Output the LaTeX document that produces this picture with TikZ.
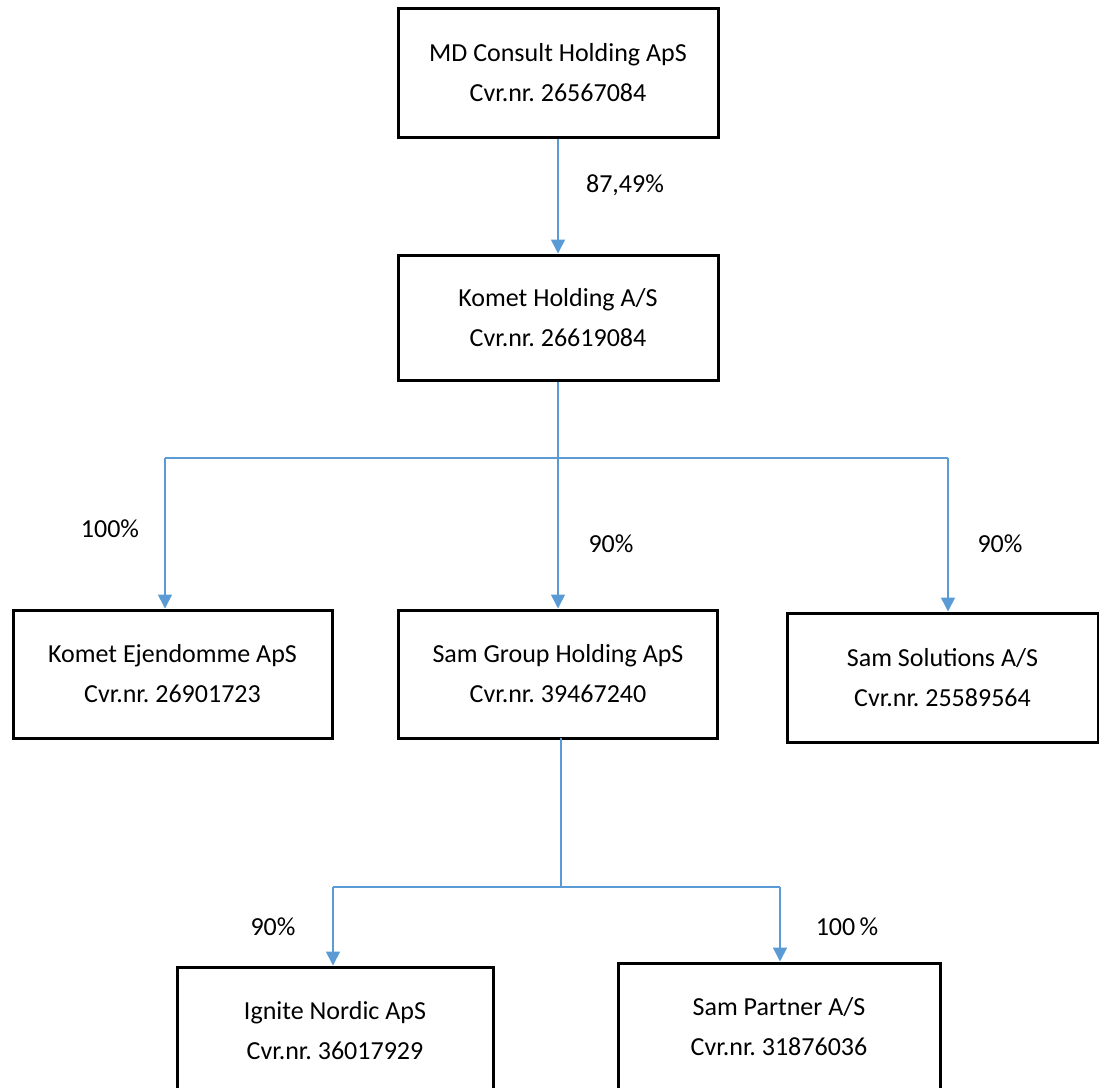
\documentclass[tikz,border=0pt]{standalone}
\usepackage{fontspec}
\setmainfont{Carlito}
\usetikzlibrary{arrows.meta}
\definecolor{linkblue}{HTML}{5B9BD5}
\frenchspacing
\tikzset{
  company/.style={draw=black, line width=3pt, fill=white, align=center, inner sep=0pt,
    font=\fontsize{26}{40}\selectfont},
  pct/.style={font=\fontsize{26}{32}\selectfont, inner sep=0pt},
  link/.style={draw=linkblue, line width=1.6pt},
  linkarrow/.style={link, -{Triangle[width=14pt,length=14pt]}}
}
\begin{document}
\begin{tikzpicture}[x=1pt,y=-1pt]
\useasboundingbox (0,0) rectangle (1099,1087);
\clip (0,0) rectangle (1099,1087);
% boxes (centres from pixel positions)
\node[company, minimum width=320pt, minimum height=129pt] (md) at (558,72.5) {MD Consult Holding ApS\\Cvr.nr. 26567084};
\node[company, minimum width=320pt, minimum height=125pt] (kh) at (558,317.5) {Komet Holding A/S\\Cvr.nr. 26619084};
\node[company, minimum width=319pt, minimum height=128pt] (ke) at (172.5,674) {Komet Ejendomme ApS\\Cvr.nr. 26901723};
\node[company, minimum width=319pt, minimum height=128pt] (sg) at (558,674) {Sam Group Holding ApS\\Cvr.nr. 39467240};
\node[company, minimum width=311pt, minimum height=129pt] (ss) at (942.5,677.5) {Sam Solutions A/S\\Cvr.nr. 25589564};
\node[company, minimum width=316pt, minimum height=128pt] (ig) at (335,1031) {Ignite Nordic ApS\\Cvr.nr. 36017929};
\node[company, minimum width=322pt, minimum height=128pt] (sp) at (779,1027) {Sam Partner A/S\\Cvr.nr. 31876036};
% bend coordinates
\coordinate (hubA) at (558,458);
\coordinate (leftA) at (165,458);
\coordinate (rightA) at (948,458);
\coordinate (topSG) at (561,738);
\coordinate (hubB) at (561,887);
\coordinate (leftB) at (333,887);
\coordinate (rightB) at (780,887);
% connectors
\draw[linkarrow] (md.south) -- (kh.north);
\draw[link] (kh.south) -- (hubA);
\draw[link] (leftA) -- (rightA);
\draw[linkarrow] (leftA) -- (ke.north -| leftA);
\draw[linkarrow] (hubA) -- (sg.north -| hubA);
\draw[linkarrow] (rightA) -- (ss.north -| rightA);
\draw[link] (topSG) -- (hubB);
\draw[link] (leftB) -- (rightB);
\draw[linkarrow] (leftB) -- (ig.north -| leftB);
\draw[linkarrow] (rightB) -- (sp.north -| rightB);
% labels
\node[pct] (p1) at (625,185) {87,49\%};
\node[pct] (p2) at (110,529) {100\%};
\node[pct] (p3) at (611,544) {90\%};
\node[pct] (p4) at (1000,544) {90\%};
\node[pct] (p5) at (273,927) {90\%};
\node[pct] (p6) at (847,927) {100\,\%};
\end{tikzpicture}
\end{document}
